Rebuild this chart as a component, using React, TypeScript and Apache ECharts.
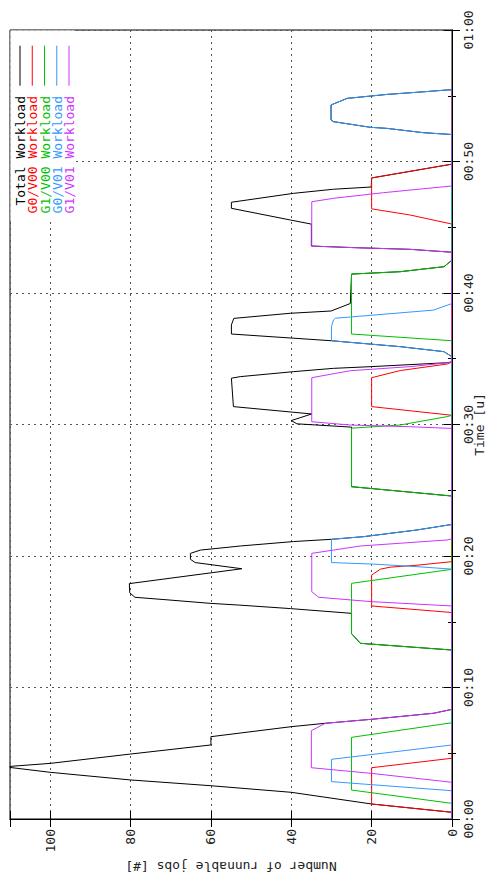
import React, { useEffect, useRef } from 'react';
import * as echarts from 'echarts';

// ---- axis ticks ----
const jobTicks = [0, 20, 40, 60, 80, 100];
const timeTickLabels = ['00:00', '00:10', '00:20', '00:30', '00:40', '00:50', '01:00'];

// ---- series ----
const seriesNames = ['Total Workload', 'G0/V00 Workload', 'G1/V00 Workload', 'G0/V01 Workload', 'G1/V01 Workload'];
const seriesColors = ['#000000', '#ff0000', '#00c000', '#3399ff', '#cc33ff'];

// time in minutes, value = number of runnable jobs
const totalTime = [0, 0.51, 1.14, 2.03, 2.53, 2.97, 3.55, 3.92, 4.0, 4.23, 4.94, 5.63, 6.26, 7.02, 7.28, 7.58, 8.04, 8.34,
  12.85, 13.36, 14.1, 15.64, 16.0, 16.27, 16.4, 16.65, 16.86, 17.2, 17.9, 19.03, 19.5, 19.75, 20.2, 20.45, 20.76, 21.1, 21.27, 21.47, 21.98, 22.4,
  24.56, 25.27, 29.8, 30.05, 30.3, 30.8, 31.36, 33.52, 33.64, 34.02, 34.27, 34.4, 34.7, 34.77,
  35.15, 35.54, 35.92, 36.18, 36.37, 36.88, 37.57, 38.07, 38.46, 38.63, 39.2, 41.44, 41.62, 42.0, 42.5,
  43.1, 43.32, 43.45, 43.57, 45.24, 45.55, 46.44, 46.9, 47.58, 47.89, 48.06, 48.75, 49.8,
  52.05, 52.19, 52.52, 52.6, 53.03, 53.16, 54.3, 54.8, 55.1, 55.3, 55.44, 55.45];
const totalJobs = [0, 0, 20, 40, 60, 80, 100, 110, 110, 100, 80, 60, 60, 40, 31.5, 20.1, 4.6, 0,
  0, 22.8, 25, 25, 40.2, 53.1, 60.2, 70.2, 78.9, 80.2, 80.3, 52.3, 63.9, 65.1, 65.1, 62.6, 52.7, 39.4, 30, 22, 8.7, 0,
  0, 25, 25, 38.6, 40, 34.9, 54.4, 54.9, 52.7, 39.4, 29.5, 20.1, 1.2, 0,
  0, 2, 12.9, 22.8, 30, 54.9, 54.9, 54.3, 40.2, 30.1, 25.3, 25, 12.9, 2, 0,
  0, 10.4, 24.5, 35, 35, 40.2, 54.9, 54.9, 39.4, 29.5, 20.1, 20, 0,
  0, 7.1, 16.2, 20.3, 29.5, 30.1, 30.1, 26.1, 16.2, 7.1, 1.2, 0];

const g0v00Time = [0, 0.51, 1.14, 3.9, 4.62, 15.7, 16.2, 18.55, 19.0, 19.15, 19.3, 19.57, 30.7, 31.36, 33.56, 34.1, 34.6, 34.75, 45.24, 45.93, 46.4, 48.75, 49.8, 55.45];
const g0v00Jobs = [0, 0, 20, 20, 0, 0, 20, 20, 17.8, 15.4, 8.7, 0, 0, 20, 20, 12.9, 1.2, 0, 0, 10.4, 20, 20, 0, 0];

const g1v00Time = [0, 1.19, 2.2, 6.21, 7.32, 12.85, 13.36, 14.1, 17.92, 18.99, 24.56, 25.27, 29.72, 29.96, 30.6, 30.7, 36.37, 36.88, 41.44, 41.62, 42.0, 42.5, 55.45];
const g1v00Jobs = [0, 0, 25, 25, 0, 0, 22.8, 25, 25, 0, 0, 25, 25, 12.9, 1.2, 0, 0, 25, 25, 12.9, 2, 0, 0];

const g0v01Time = [0, 2.15, 2.84, 4.54, 5.63, 19.0, 19.19, 19.39, 19.5, 21.27, 21.47, 21.98, 22.4, 35.15, 35.54, 35.92, 36.18, 36.37, 37.44, 37.95, 38.08, 38.7, 39.2,
  52.05, 52.19, 52.52, 52.6, 53.03, 53.16, 54.3, 54.8, 55.1, 55.3, 55.44, 55.45];
const g0v01Jobs = [0, 0, 30, 30, 0, 0, 8.7, 20, 30, 30, 22, 8.7, 0, 0, 2, 12.9, 22.8, 30, 30, 29.5, 29.0, 4.6, 0,
  0, 7.1, 16.2, 20.3, 29.5, 30.1, 30.1, 26.1, 16.2, 7.1, 1.2, 0];

const g1v01Time = [0, 2.79, 3.47, 3.9, 6.72, 7.28, 7.58, 8.04, 8.34, 16.2, 16.53, 16.86, 17.29, 20.2, 20.76, 20.97, 21.22, 21.3,
  29.7, 29.83, 29.96, 30.21, 33.56, 34.09, 34.4, 34.73, 43.1, 43.32, 43.45, 43.57, 46.94, 47.2, 47.63, 48.14, 55.45];
const g1v01Jobs = [0, 0, 20.1, 35, 35, 31.5, 20.1, 4.6, 0, 0, 20.1, 33.2, 34.9, 34.9, 22.8, 12.9, 1.2, 0,
  0, 10.4, 25.3, 34.9, 34.9, 25.3, 10.4, 0, 0, 10.4, 24.5, 34.9, 34.9, 29.5, 17, 0, 0];

const seriesTimes = [totalTime, g0v00Time, g1v00Time, g0v01Time, g1v01Time];
const seriesJobs = [totalJobs, g0v00Jobs, g1v00Jobs, g0v01Jobs, g1v01Jobs];

const FONT = '"DejaVu Sans Mono", monospace';

export default function App() {
  const ref = useRef<HTMLDivElement>(null);
  useEffect(() => {
    if (!ref.current) return;
    const chart = echarts.init(ref.current, undefined, { renderer: 'svg' });

    const tickCommon = { inside: true, length: 8, lineStyle: { color: '#000', width: 1 } };

    const legendEls: any[] = [];
    legendEls.push({
      type: 'rect', z: 1, silent: true,
      shape: { x: 10.5, y: 30.5, width: 64, height: 190 },
      style: { fill: '#fff' },
    });
    seriesNames.forEach((name, i) => {
      const cx = 20 + i * 12.25;
      legendEls.push({
        type: 'line', z: 5, silent: true,
        shape: { x1: cx, y1: 45.7, x2: cx, y2: 85.7 },
        style: { stroke: seriesColors[i], lineWidth: 1 },
      });
      legendEls.push({
        type: 'text', z: 5, silent: true,
        x: cx + 0.5, y: 96, rotation: Math.PI / 2,
        style: {
          text: name, fill: seriesColors[i], font: `13px ${FONT}`,
          align: 'right', verticalAlign: 'middle', textAlign: 'right', textVerticalAlign: 'middle',
        },
      });
    });

    const option: any = {
      animation: false,
      backgroundColor: '#fff',
      grid: {
        left: 10, right: 35, top: 30, bottom: 73, show: true, borderColor: '#000', borderWidth: 1,
        backgroundColor: 'transparent', containLabel: false, outerBoundsMode: 'none',
      },
      xAxis: [
        {
          type: 'value', min: 0, max: 110, interval: 20, inverse: true, position: 'bottom',
          name: 'Number of runnable jobs [#]', nameLocation: 'middle', nameRotate: 180, nameGap: 38,
          nameTextStyle: { fontFamily: FONT, fontSize: 13, color: '#222' },
          axisLine: { show: true, lineStyle: { color: '#000', width: 1 } },
          axisTick: tickCommon,
          axisLabel: {
            rotate: 90, margin: 10, fontFamily: FONT, fontSize: 13, color: '#222',
            formatter: (v: number) => (jobTicks.includes(v) ? String(v) : ''),
          },
          splitLine: { show: true, lineStyle: { color: '#555', type: [2, 4], width: 1 } },
        },
        {
          type: 'value', min: 0, max: 110, interval: 20, inverse: true, position: 'top', z: 3,
          axisLine: { show: true, lineStyle: { color: '#000', width: 1 } },
          axisTick: tickCommon,
          axisLabel: { show: false },
          splitLine: { show: false },
        },
      ],
      yAxis: [
        {
          type: 'value', min: 0, max: 60, interval: 10, position: 'right',
          name: 'Time [u]', nameLocation: 'middle', nameRotate: 90, nameGap: 21, nameMoveOverlap: false,
          nameTextStyle: { fontFamily: FONT, fontSize: 13, color: '#222' },
          axisLine: { show: true, lineStyle: { color: '#000', width: 1 } },
          axisTick: tickCommon,
          minorTick: { show: true, splitNumber: 2, length: 4, lineStyle: { color: '#000', width: 1 } },
          axisLabel: {
            rotate: 90, margin: 10, fontFamily: FONT, fontSize: 13, color: '#222',
            formatter: (v: number) => timeTickLabels[Math.round(v / 10)] ?? '',
          },
          splitLine: { show: true, lineStyle: { color: '#555', type: [2, 4], width: 1 } },
        },
        {
          type: 'value', min: 0, max: 60, interval: 10, position: 'left', z: 3,
          axisLine: { show: true, lineStyle: { color: '#000', width: 1 } },
          axisTick: tickCommon,
          minorTick: { show: true, splitNumber: 2, length: 4, lineStyle: { color: '#000', width: 1 } },
          axisLabel: { show: false },
          splitLine: { show: false },
        },
      ],
      graphic: { elements: legendEls },
      series: seriesNames.map((name, i) => ({
        name,
        type: 'line',
        xAxisIndex: 0,
        yAxisIndex: 0,
        showSymbol: false,
        symbol: 'none',
        clip: true,
        z: 2,
        lineStyle: { color: seriesColors[i], width: 1 },
        itemStyle: { color: seriesColors[i] },
        data: seriesTimes[i].map((t, k) => [seriesJobs[i][k], t]),
      })),
    };
    chart.setOption(option);
    return () => chart.dispose();
  }, []);

  return (
    <div
      ref={ref}
      style={{ position: 'fixed', left: 0, top: 0, width: 487, height: 892, background: '#fff' }}
    />
  );
}
